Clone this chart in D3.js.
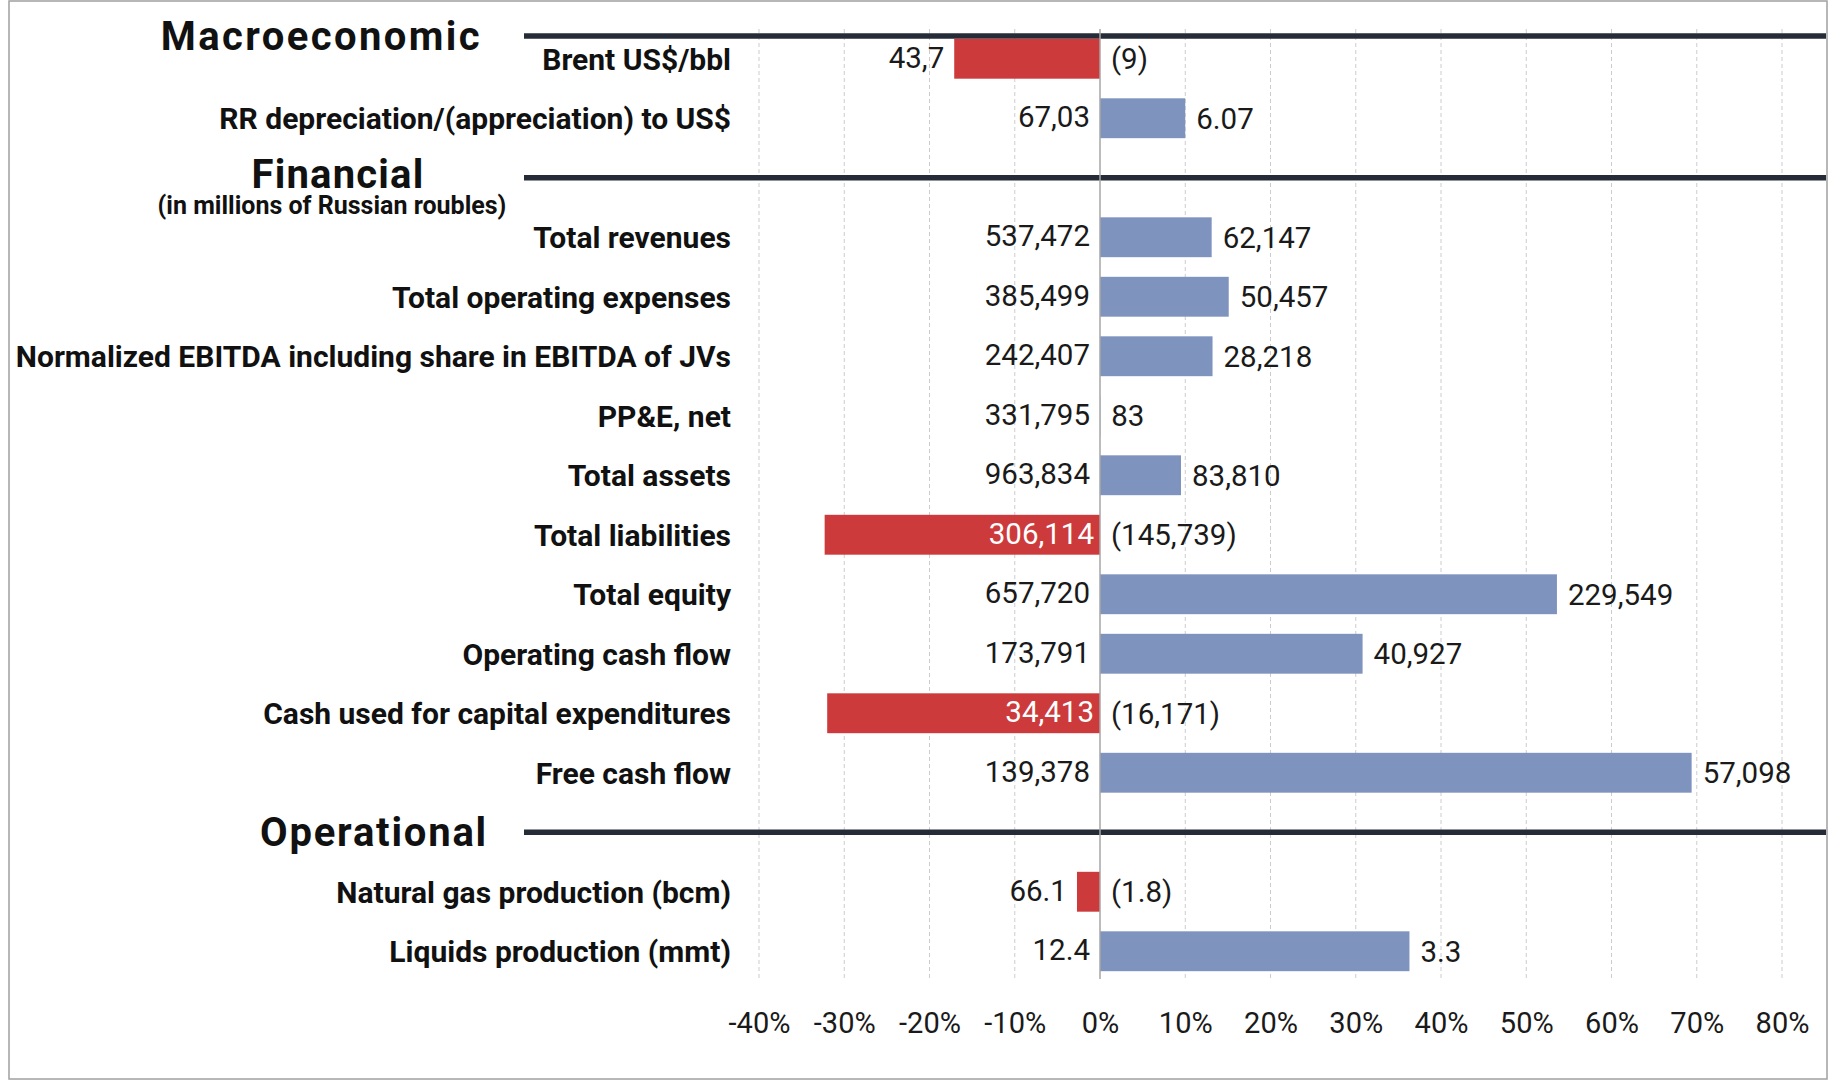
<!DOCTYPE html>
<html>
<head>
<meta charset="utf-8">
<title>Key indicators</title>
<script src="https://cdn.jsdelivr.net/npm/d3@7"></script>
<style>
body { margin: 0; background: #fff; }
svg { display: block; font-family: Roboto, "Noto Sans", sans-serif; }
.grid line { stroke: #cccccc; stroke-width: 1; stroke-dasharray: 4,3; }
.axis text { font-size: 29px; fill: #1a1a1a; font-family: Roboto, sans-serif; }
.cat { font-size: 30px; font-weight: 700; fill: #111; }
.val { font-size: 29.5px; }
.head { font-size: 40px; font-weight: 700; fill: #111; }
</style>
</head>
<body>
<script>
// Settings
var w = 1829;
var h = 1081;

// Data
var sections = ["Macroeconomic", "Financial", "Operational"];
var sectionNote = "(in millions of Russian roubles)";

var categories = [
	"Brent US$/bbl",
	"RR depreciation/(appreciation) to US$",
	"Total revenues",
	"Total operating expenses",
	"Normalized EBITDA including share in EBITDA of JVs",
	"PP&E, net",
	"Total assets",
	"Total liabilities",
	"Total equity",
	"Operating cash flow",
	"Cash used for capital expenditures",
	"Free cash flow",
	"Natural gas production (bcm)",
	"Liquids production (mmt)"
];
var categorySection = [0, 0, 1, 1, 1, 1, 1, 1, 1, 1, 1, 1, 2, 2];
var currentValues = ["43,7", "67,03", "537,472", "385,499", "242,407", "331,795", "963,834",
	"306,114", "657,720", "173,791", "34,413", "139,378", "66.1", "12.4"];
var changeValues = ["(9)", "6.07", "62,147", "50,457", "28,218", "83", "83,810",
	"(145,739)", "229,549", "40,927", "(16,171)", "57,098", "(1.8)", "3.3"];
var pctChange = [-17.1, 10.0, 13.1, 15.1, 13.2, 0.03, 9.5, -32.3, 53.6, 30.8, -32.0, 69.4, -2.7, 36.3];
var tickValues = [-40, -30, -20, -10, 0, 10, 20, 30, 40, 50, 60, 70, 80];

var red = "#cd3a3b";
var blue = "#7f93bf";

var rows = categories.map(function(c, i) {
	return { name: c, pct: pctChange[i], current: currentValues[i], change: changeValues[i] };
});

//Row slots: section headers (after the first) take a row of their own
var slots = [];
categories.forEach(function(c, i) {
	var s = categorySection[i];
	if (s > 0 && categorySection[i - 1] !== s) slots.push("#" + sections[s]);
	slots.push(c);
});

//Scales
var xScale = d3.scaleLinear()
	.domain([-40, 80])
	.range([759, 1782]);

var yScale = d3.scaleBand()
	.domain(slots)
	.range([29, 981])
	.paddingInner(0.33)
	.paddingOuter(0.165);

var svg = d3.select("body")
	.append("svg")
	.attr("width", w)
	.attr("height", h);

//Frame
svg.append("rect")
	.attr("x", 9).attr("y", 1)
	.attr("width", w - 11).attr("height", h - 3)
	.attr("fill", "#fff")
	.attr("stroke", "#a0a0a0")
	.attr("stroke-width", 1.5);

var gridTop = yScale.range()[0];
var gridBottom = yScale.range()[1] - 2;

//Grid
svg.append("g")
	.attr("class", "grid")
	.selectAll("line")
	.data(tickValues.filter(function(t) { return t !== 0; }))
	.enter()
	.append("line")
	.attr("x1", function(d) { return xScale(d); })
	.attr("x2", function(d) { return xScale(d); })
	.attr("y1", gridTop)
	.attr("y2", gridBottom);

//Section header lines + titles
var headerY = function(i) {
	if (i === 0) return yScale.range()[0] + 7;
	return yScale("#" + sections[i]) + yScale.bandwidth() / 2;
};

svg.selectAll(".sectionLine")
	.data(sections)
	.enter()
	.append("line")
	.attr("class", "sectionLine")
	.attr("x1", 524)
	.attr("x2", w - 3)
	.attr("y1", function(d, i) { return headerY(i); })
	.attr("y2", function(d, i) { return headerY(i); })
	.attr("stroke", "#252c37")
	.attr("stroke-width", 5.5);

svg.selectAll(".head")
	.data(sections)
	.enter()
	.append("text")
	.attr("class", "head")
	.attr("x", function(d, i) { return [482, 338, 488][i]; })
	.attr("y", function(d, i) { return headerY(i) + (i === 1 ? 10 : 14); })
	.attr("text-anchor", function(d, i) { return i === 1 ? "middle" : "end"; })
	.style("letter-spacing", function(d, i) { return [2.4, 1.2, 1.8][i] + "px"; })
	.text(function(d) { return d; });

svg.append("text")
	.attr("x", 332)
	.attr("y", headerY(1) + 36)
	.attr("text-anchor", "middle")
	.attr("font-size", "25px")
	.attr("font-weight", 700)
	.attr("fill", "#111")
	.text(sectionNote);

//Bars
svg.selectAll(".bar")
	.data(rows)
	.enter()
	.append("rect")
	.attr("class", "bar")
	.attr("x", function(d) { return xScale(Math.min(0, d.pct)); })
	.attr("y", function(d) { return yScale(d.name); })
	.attr("width", function(d) { return Math.abs(xScale(d.pct) - xScale(0)); })
	.attr("height", yScale.bandwidth())
	.attr("fill", function(d) { return d.pct < 0 ? red : blue; });

//Zero line
svg.append("line")
	.attr("x1", xScale(0)).attr("x2", xScale(0))
	.attr("y1", gridTop).attr("y2", gridBottom)
	.attr("stroke", "#a6a6a6")
	.attr("stroke-width", 1.5);

var midY = function(d) { return yScale(d.name) + yScale.bandwidth() / 2; };
var inside = function(d) { return d.pct < -25; };

//Category labels
svg.selectAll(".cat")
	.data(rows)
	.enter()
	.append("text")
	.attr("class", "cat")
	.attr("x", 731)
	.attr("y", midY)
	.attr("dy", "0.36em")
	.attr("text-anchor", "end")
	.text(function(d) { return d.name; });

//Current value labels (left of zero, inside the long red bars)
svg.selectAll(".cur")
	.data(rows)
	.enter()
	.append("text")
	.attr("class", "val")
	.attr("x", function(d) {
		if (inside(d)) return xScale(0) - 6;
		return xScale(Math.min(0, d.pct)) - 10;
	})
	.attr("y", midY)
	.attr("dy", "0.3em")
	.attr("text-anchor", "end")
	.style("fill", function(d) { return inside(d) ? "#ffffff" : "#1a1a1a"; })
	.text(function(d) { return d.current; });

//Change labels (right of the bar)
svg.selectAll(".chg")
	.data(rows)
	.enter()
	.append("text")
	.attr("class", "val")
	.attr("x", function(d) { return xScale(Math.max(0, d.pct)) + 11; })
	.attr("y", midY)
	.attr("dy", "0.36em")
	.style("fill", "#1a1a1a")
	.text(function(d) { return d.change; });

//Axis
var xAxis = d3.axisBottom()
	.scale(xScale)
	.tickValues(tickValues)
	.tickSize(0)
	.tickPadding(33)
	.tickFormat(function(d) { return d + "%"; });

svg.append("g")
	.attr("class", "axis")
	.attr("transform", "translate(0," + 979 + ")")
	.call(xAxis)
	.call(function(g) { g.select(".domain").remove(); });
</script>
</body>
</html>
